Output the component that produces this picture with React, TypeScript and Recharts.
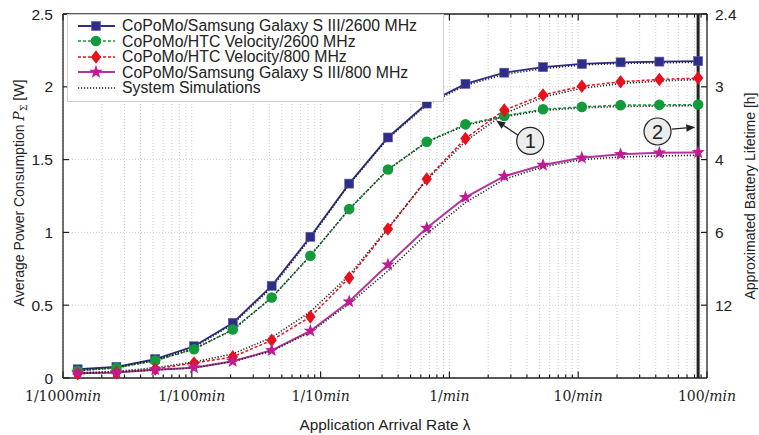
import {
  CartesianGrid,
  Legend,
  Line,
  LineChart,
  ReferenceDot,
  ReferenceLine,
  XAxis,
  YAxis,
} from "recharts";

// arrival rates [1/min], one point per doubling
const RATES = [
  0.0013, 0.0026, 0.0052, 0.0104, 0.0208, 0.0417, 0.0833, 0.1667, 0.3333,
  0.6667, 1.333, 2.667, 5.333, 10.67, 21.33, 42.67, 85.33,
];

// model results [W]
const GALAXY_2600 = [
  0.06, 0.077, 0.13, 0.218, 0.378, 0.633, 0.97, 1.335, 1.652, 1.885, 2.02,
  2.097, 2.135, 2.157, 2.168, 2.173, 2.176,
];
const HTC_2600 = [
  0.05, 0.07, 0.12, 0.197, 0.333, 0.553, 0.84, 1.16, 1.432, 1.623, 1.742,
  1.8, 1.846, 1.862, 1.874, 1.876, 1.878,
];
const HTC_800 = [
  0.03, 0.037, 0.062, 0.103, 0.145, 0.259, 0.42, 0.688, 1.023, 1.367, 1.645,
  1.84, 1.944, 2.004, 2.035, 2.05, 2.06,
];
const GALAXY_800 = [
  0.035, 0.037, 0.057, 0.071, 0.115, 0.19, 0.323, 0.525, 0.778, 1.03, 1.24,
  1.386, 1.463, 1.512, 1.536, 1.547, 1.549,
];

// system simulations [W]
const SIM_GALAXY_2600 = [
  0.055, 0.075, 0.125, 0.21, 0.37, 0.62, 0.96, 1.33, 1.645, 1.875, 2.01,
  2.085, 2.125, 2.15, 2.16, 2.165, 2.168,
];
const SIM_HTC_2600 = [
  0.05, 0.07, 0.12, 0.2, 0.33, 0.55, 0.84, 1.16, 1.43, 1.62, 1.735, 1.795,
  1.838, 1.855, 1.865, 1.868, 1.87,
];
const SIM_HTC_800 = [
  0.035, 0.045, 0.07, 0.11, 0.165, 0.278, 0.455, 0.705, 1.03, 1.36, 1.625,
  1.815, 1.93, 1.99, 2.022, 2.04, 2.05,
];
const SIM_GALAXY_800 = [
  0.03, 0.04, 0.055, 0.07, 0.113, 0.185, 0.315, 0.51, 0.735, 0.99, 1.205,
  1.365, 1.45, 1.5, 1.518, 1.525, 1.53,
];

const X_MAJOR = [0.001, 0.01, 0.1, 1, 10, 100];
const X_LABELS = ["1/1000", "1/100", "1/10", "1/", "10/", "100/"];
const Y_TICKS = [0, 0.5, 1, 1.5, 2, 2.5];
const LIFETIME_TICKS = [2.4, 3, 4, 6, 12]; // hours
const BATTERY_WH = 6;
const MAX_RATE = 85.33;

const INK = "#222";
const NAVY = "#2e2d87";
const GREEN = "#139a3a";
const RED = "#e8101c";
const MAGENTA = "#c01a96";
const SANS = "'Liberation Sans', Arial, sans-serif";
const SERIF = "'DejaVu Serif', serif";

const X_MINOR: number[] = [];
X_MAJOR.slice(0, -1).forEach((d) => {
  for (let m = 2; m <= 9; m++) X_MINOR.push(+(d * m).toPrecision(3));
});
const X_TICKS = [...X_MAJOR, ...X_MINOR].sort((a, b) => a - b);
const RIGHT_TICKS = LIFETIME_TICKS.map((h) => +(BATTERY_WH / h).toFixed(4));

const data = RATES.map((rate, i) => ({
  rate,
  g26: GALAXY_2600[i],
  h26: HTC_2600[i],
  h8: HTC_800[i],
  g8: GALAXY_800[i],
  sg26: SIM_GALAXY_2600[i],
  sh26: SIM_HTC_2600[i],
  sh8: SIM_HTC_800[i],
  sg8: SIM_GALAXY_800[i],
}));

type Shape = "square" | "circle" | "diamond" | "star";

function starPoints(cx: number, cy: number, R: number, r: number) {
  const pts: string[] = [];
  for (let i = 0; i < 10; i++) {
    const rad = i % 2 === 0 ? R : r;
    const a = -Math.PI / 2 + (i * Math.PI) / 5;
    pts.push(`${cx + rad * Math.cos(a)},${cy + rad * Math.sin(a)}`);
  }
  return pts.join(" ");
}

function Marker({ shape, cx, cy, color }: { shape: Shape; cx: number; cy: number; color: string }) {
  if (shape === "square")
    return <rect x={cx - 4.5} y={cy - 4.5} width={9} height={9} fill={color} stroke="#5a5aa8" strokeWidth={0.6} />;
  if (shape === "circle") return <circle cx={cx} cy={cy} r={5.3} fill={color} />;
  if (shape === "diamond")
    return <polygon points={`${cx},${cy - 6.8} ${cx + 5.2},${cy} ${cx},${cy + 6.8} ${cx - 5.2},${cy}`} fill={color} />;
  return <polygon points={starPoints(cx, cy, 7, 2.9)} fill={color} />;
}

const dotOf = (shape: Shape, color: string) => (p: any) =>
  <Marker key={`d-${p.index}`} shape={shape} cx={p.cx} cy={p.cy} color={color} />;

const SERIES = [
  { key: "g26", sim: "sg26", label: "CoPoMo/Samsung Galaxy S III/2600 MHz", color: NAVY, dash: undefined, width: 1.8, shape: "square" as Shape },
  { key: "h26", sim: "sh26", label: "CoPoMo/HTC Velocity/2600 MHz", color: GREEN, dash: "3 2", width: 1.5, shape: "circle" as Shape },
  { key: "h8", sim: "sh8", label: "CoPoMo/HTC Velocity/800 MHz", color: RED, dash: "3 2", width: 1.5, shape: "diamond" as Shape },
  { key: "g8", sim: "sg8", label: "CoPoMo/Samsung Galaxy S III/800 MHz", color: "#b2379a", dash: undefined, width: 2, shape: "star" as Shape },
];

function BottomTick({ x, y, payload }: any) {
  const i = X_MAJOR.indexOf(payload.value);
  const major = i >= 0;
  return (
    <g>
      <line x1={x} x2={x} y1={y} y2={y - (major ? 6.5 : 3.5)} stroke={INK} strokeWidth={1.2} />
      {major && (
        <text x={x} y={y + 23} textAnchor="middle" fontFamily={SERIF} fontSize={14} fill={INK}>
          {X_LABELS[i]}
          <tspan fontStyle="italic">min</tspan>
        </text>
      )}
    </g>
  );
}

function TopTick({ x, y, payload }: any) {
  const major = X_MAJOR.includes(payload.value);
  return <line x1={x} x2={x} y1={y} y2={y + (major ? 6.5 : 3.5)} stroke={INK} strokeWidth={1.2} />;
}

function LeftTick({ x, y, payload }: any) {
  return (
    <g>
      <line x1={x} x2={x + 6} y1={y} y2={y} stroke={INK} strokeWidth={1.2} />
      <text x={x - 10} y={y} dy="0.36em" textAnchor="end" fontFamily={SANS} fontSize={15.5} fill={INK}>
        {payload.value}
      </text>
    </g>
  );
}

function RightTick({ x, y, payload }: any) {
  const hours = Math.round((BATTERY_WH / payload.value) * 10) / 10;
  return (
    <g>
      <line x1={x} x2={x - 6} y1={y} y2={y} stroke={INK} strokeWidth={1.2} />
      <text x={x + 8} y={y} dy="0.36em" textAnchor="start" fontFamily={SANS} fontSize={15.5} fill={INK}>
        {hours}
      </text>
    </g>
  );
}

function LeftTitle({ viewBox }: any) {
  const cx = viewBox.x + 24;
  const cy = viewBox.y + viewBox.height / 2 - 3;
  return (
    <text transform={`translate(${cx},${cy}) rotate(-90)`} textAnchor="middle" fontFamily={SANS} fontSize={14} fill={INK}>
      Average Power Consumption{" "}
      <tspan fontFamily={SERIF} fontStyle="italic">P</tspan>
      <tspan fontFamily={SERIF} fontSize={9.5} dy={3}>Σ</tspan>
      <tspan dy={-3}> [W]</tspan>
    </text>
  );
}

function RightTitle({ viewBox }: any) {
  const cx = viewBox.x + viewBox.width - 4;
  const cy = viewBox.y + viewBox.height / 2;
  return (
    <text transform={`translate(${cx},${cy}) rotate(-90)`} textAnchor="middle" fontFamily={SANS} fontSize={14} fill={INK}>
      Approximated Battery Lifetime [h]
    </text>
  );
}

function BottomTitle({ viewBox }: any) {
  return (
    <text x={viewBox.x + viewBox.width / 2} y={viewBox.y + 52} textAnchor="middle" fontFamily={SANS} fontSize={15.4} fill={INK}>
      Application Arrival Rate λ
    </text>
  );
}

function Badge({ cx, cy, text }: { cx: number; cy: number; text: string }) {
  return (
    <g>
      <circle cx={cx} cy={cy} r={13.5} fill="#ececec" stroke={INK} strokeWidth={1.2} />
      <text x={cx} y={cy} dy="0.36em" textAnchor="middle" fontFamily={SANS} fontSize={20} fill={INK}>
        {text}
      </text>
    </g>
  );
}

function Arrow({ x1, y1, x2, y2 }: any) {
  const a = Math.atan2(y2 - y1, x2 - x1);
  const L = 9;
  const W = 3.8;
  const bx = x2 - L * Math.cos(a);
  const by = y2 - L * Math.sin(a);
  const px = -Math.sin(a) * W;
  const py = Math.cos(a) * W;
  return (
    <g>
      <line x1={x1} y1={y1} x2={bx} y2={by} stroke={INK} strokeWidth={1.3} />
      <polygon points={`${x2},${y2} ${bx + px},${by + py} ${bx - px},${by - py}`} fill={INK} />
    </g>
  );
}

// annotation anchors in data coordinates
const NOTES = [
  { text: "1", at: { x: 4.24, y: 1.628 }, from: { x: 3.55, y: 1.657 }, to: { x: 2.31, y: 1.768 } },
  { text: "2", at: { x: 41.3, y: 1.693 }, from: { x: 53.5, y: 1.71 }, to: { x: 81.1, y: 1.722 } },
];

function LegendBox() {
  const row = { display: "flex", alignItems: "center", height: 15.5 } as const;
  const txt = { whiteSpace: "nowrap", lineHeight: "15.5px" } as const;
  return (
    <div
      style={{
        background: "#fff",
        border: "1px solid #cfcfcf",
        padding: "3px 0 5px 0",
        fontFamily: SANS,
        fontSize: 15.8,
        color: INK,
      }}
    >
      {SERIES.map((s) => (
        <div key={s.key} style={row}>
          <svg width={54} height={16} style={{ flex: "none" }}>
            <line x1={10} x2={47} y1={8} y2={8} stroke={s.color} strokeWidth={s.width} strokeDasharray={s.dash} />
            <Marker shape={s.shape} cx={28} cy={8} color={s.shape === "star" ? MAGENTA : s.color} />
          </svg>
          <span style={txt}>{s.label}</span>
        </div>
      ))}
      <div style={row}>
        <svg width={54} height={16} style={{ flex: "none" }}>
          <line x1={10} x2={47} y1={8} y2={8} stroke={INK} strokeWidth={1.6} strokeDasharray="1.2 1.8" />
        </svg>
        <span style={txt}>System Simulations</span>
      </div>
    </div>
  );
}

export default function App() {
  return (
    <div style={{ position: "absolute", left: 0, top: 0, background: "#fff" }}>
      <LineChart width={759} height={435} data={data} margin={{ top: 13, right: 0, bottom: 0, left: 0 }}>
        <CartesianGrid stroke="#cfcfcf" strokeDasharray="1 2" />
        <XAxis
          dataKey="rate"
          type="number"
          scale="log"
          domain={[0.001, 100]}
          allowDataOverflow
          ticks={X_TICKS}
          interval={0}
          height={57}
          tickSize={0}
          tickMargin={0}
          tick={<BottomTick />}
          axisLine={{ stroke: INK, strokeWidth: 1.3 }}
          label={(p: any) => <BottomTitle viewBox={p.viewBox} />}
        />
        <XAxis
          xAxisId="top"
          orientation="top"
          dataKey="rate"
          type="number"
          scale="log"
          domain={[0.001, 100]}
          allowDataOverflow
          ticks={X_TICKS}
          interval={0}
          height={1}
          tickSize={0}
          tickMargin={0}
          tick={<TopTick />}
          axisLine={{ stroke: INK, strokeWidth: 1.3 }}
        />
        <YAxis
          type="number"
          domain={[0, 2.5]}
          ticks={Y_TICKS}
          interval={0}
          width={63}
          tickSize={0}
          tickMargin={0}
          tick={<LeftTick />}
          axisLine={{ stroke: INK, strokeWidth: 1.3 }}
          label={(p: any) => <LeftTitle viewBox={p.viewBox} />}
        />
        <YAxis
          yAxisId="right"
          orientation="right"
          type="number"
          domain={[0, 2.5]}
          allowDataOverflow
          ticks={RIGHT_TICKS}
          interval={0}
          width={52}
          tickSize={0}
          tickMargin={0}
          tick={<RightTick />}
          axisLine={{ stroke: INK, strokeWidth: 1.3 }}
          label={(p: any) => <RightTitle viewBox={p.viewBox} />}
        />
        <ReferenceLine x={MAX_RATE} stroke={INK} strokeWidth={3} />
        {/* invisible carrier so the lifetime axis gets its ticks */}
        <Line
          yAxisId="right"
          dataKey="g26"
          stroke="none"
          dot={false}
          activeDot={false}
          legendType="none"
          isAnimationActive={false}
        />
        {SERIES.map((s) => (
          <Line
            key={s.key}
            dataKey={s.key}
            name={s.label}
            stroke={s.color}
            strokeWidth={s.width}
            strokeDasharray={s.dash}
            dot={dotOf(s.shape, s.shape === "star" ? MAGENTA : s.color)}
            activeDot={false}
            isAnimationActive={false}
          />
        ))}
        {SERIES.map((s) => (
          <Line
            key={s.sim}
            dataKey={s.sim}
            stroke={INK}
            strokeWidth={1.6}
            strokeDasharray="1.2 1.8"
            dot={false}
            activeDot={false}
            legendType="none"
            isAnimationActive={false}
          />
        ))}
        {NOTES.map((n) => (
          <ReferenceLine
            key={`a${n.text}`}
            segment={[n.from, n.to]}
            stroke={INK}
            shape={(p: any) => <Arrow x1={p.x1} y1={p.y1} x2={p.x2} y2={p.y2} />}
          />
        ))}
        {NOTES.map((n) => (
          <ReferenceDot
            key={`b${n.text}`}
            x={n.at.x}
            y={n.at.y}
            r={13}
            shape={(p: any) => <Badge cx={p.cx} cy={p.cy} text={n.text} />}
          />
        ))}
        <Legend
          layout="horizontal"
          verticalAlign="middle"
          align="center"
          content={() => <LegendBox />}
          wrapperStyle={{ left: 67, top: 14, width: 377 }}
        />
      </LineChart>
    </div>
  );
}
